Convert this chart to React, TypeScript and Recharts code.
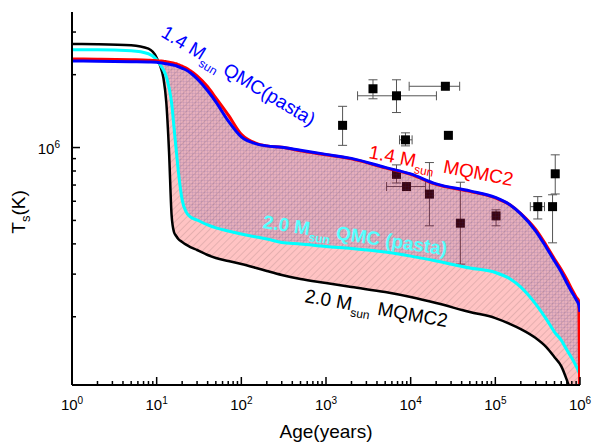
import React from 'react';
import * as R from 'recharts';
import { Area, ComposedChart, ErrorBar, Line, Scatter, XAxis, YAxis } from 'recharts';

const FONT = '"Liberation Sans", Arial, Helvetica, sans-serif';

// cooling curves: surface temperature (K) against age (years)
const ages = [
  1, 2, 5, 8, 10, 10.5, 11, 12, 13, 14, 15, 16, 17, 18, 20, 22, 25, 30, 40, 50, 70, 100,
  150, 200, 300, 500, 1000, 2000, 5000, 1e4, 2e4, 5e4, 1e5, 1.5e5, 2e5, 3e5, 4e5, 5e5,
  6e5, 7e5, 8e5, 9e5, 9.7e5, 1e6,
];

// 1.4 Msun MQMC2 (red)
const t14MQMC2 = [
  2.321e6, 2.317e6, 2.306e6, 2.295e6, 2.284e6, 2.28e6, 2.277e6, 2.273e6, 2.262e6, 2.251e6,
  2.24e6, 2.229e6, 2.219e6, 2.198e6, 2.167e6, 2.136e6, 2.076e6, 1.979e6, 1.782e6, 1.605e6,
  1.365e6, 1.134e6, 1.041e6, 1.016e6, 1.002e6, 0.969e6, 0.933e6, 0.898e6, 0.824e6, 0.775e6,
  0.704e6, 0.659e6, 0.619e6, 0.579e6, 0.534e6, 0.459e6, 0.394e6, 0.3465e6, 0.3135e6,
  0.285e6, 0.26e6, 0.241e6, 0.232e6, 0.068e6,
];

// 1.4 Msun QMC(pasta) (blue)
const t14QMCpasta = [
  2.277e6, 2.273e6, 2.262e6, 2.256e6, 2.251e6, 2.244e6, 2.24e6, 2.229e6, 2.219e6, 2.208e6,
  2.198e6, 2.188e6, 2.177e6, 2.157e6, 2.126e6, 2.096e6, 2.037e6, 1.923e6, 1.716e6, 1.545e6,
  1.289e6, 1.107e6, 1.036e6, 1.016e6, 1.002e6, 0.974e6, 0.937e6, 0.902e6, 0.828e6, 0.778e6,
  0.708e6, 0.662e6, 0.622e6, 0.579e6, 0.532e6, 0.452e6, 0.3866e6, 0.34e6, 0.306e6,
  0.2757e6, 0.253e6, 0.2356e6, 0.2236e6, 0.2092e6,
];

// 2.0 Msun QMC (pasta) (cyan)
const t20QMCpasta = [
  2.536e6, 2.536e6, 2.512e6, 2.441e6, 2.306e6, 2.251e6, 2.198e6, 2.096e6, 1.96e6, 1.765e6,
  1.532e6, 1.218e6, 0.978e6, 0.801e6, 0.608e6, 0.547e6, 0.517e6, 0.502e6, 0.479e6, 0.4655e6,
  0.452e6, 0.4395e6, 0.427e6, 0.419e6, 0.405e6, 0.3996e6, 0.39e6, 0.383e6, 0.37e6, 0.356e6,
  0.34e6, 0.318e6, 0.3047e6, 0.2864e6, 0.2653e6, 0.2257e6, 0.1956e6, 0.1729e6, 0.1602e6,
  0.1457e6, 0.135e6, 0.1251e6, 0.1181e6, 0.1148e6,
];

// 2.0 Msun MQMC2 (black)
const t20MQMC2 = [
  2.677e6, 2.672e6, 2.647e6, 2.56e6, 2.35e6, 2.262e6, 2.177e6, 1.942e6, 1.532e6, 0.96e6,
  0.527e6, 0.448e6, 0.431e6, 0.419e6, 0.4074e6, 0.398e6, 0.388e6, 0.3774e6, 0.3598e6,
  0.3498e6, 0.3399e6, 0.3304e6, 0.318e6, 0.3091e6, 0.2975e6, 0.2864e6, 0.2757e6, 0.2653e6,
  0.2529e6, 0.2412e6, 0.2279e6, 0.2092e6, 0.1975e6, 0.1866e6, 0.1779e6, 0.1633e6, 0.1499e6,
  0.1362e6, 0.1251e6, 0.1094e6, 0.0949e6, 0.0823e6, 0.0748e6, 0.068e6,
];

// observed isolated neutron stars
const obsAge = [1570, 3590, 6800, 25700, 8680, 27900, 6800, 8920, 16660, 38650, 1.02e5, 3.17e5, 4.74e5, 5.1e5];
const obsT = [
  1.235e6, 1.749e6, 1.636e6, 1.791e6, 1.076e6, 1.123e6, 0.775e6, 0.69e6, 0.642e6, 0.487e6,
  0.522e6, 0.57e6, 0.57e6, 0.779e6,
];
const obsTLow = [
  1.021e6, 1.59e6, 1.395e6, null, 1.016e6, null, 0.714e6, null, 0.475e6, 0.33e6, 0.475e6,
  0.507e6, 0.404e6, 0.643e6,
];
const obsTHigh = [
  1.48e6, 1.905e6, 1.905e6, null, 1.15e6, null, 0.848e6, null, 0.867e6, 0.719e6, 0.553e6,
  0.627e6, 0.638e6, 0.933e6,
];
const obsAgeLow = [null, null, 2360, 9600, 7380, null, null, 5190, null, null, null, 2.59e5, null, null];
const obsAgeHigh = [null, null, 20150, 37900, 10400, null, null, 14950, null, null, null, 3.81e5, null, null];

const decades = [1, 10, 100, 1e3, 1e4, 1e5];
const xTicks = [...decades.flatMap((d) => [1, 2, 3, 4, 5, 6, 7, 8, 9].map((m) => m * d)), 1e6];
const yTicks = [2e5, 3e5, 4e5, 5e5, 6e5, 7e5, 8e5, 9e5, 1e6, 2e6, 3e6];

const X_DOMAIN = [1, 1e6];
const Y_DOMAIN = [1.045e5, 3.63e6];

const curves = ages.map((age, i) => ({
  age,
  red: t14MQMC2[i],
  blue: t14QMCpasta[i],
  cyan: t20QMCpasta[i],
  black: t20MQMC2[i],
  pinkBand: age >= 10.5 ? [t20MQMC2[i], t14MQMC2[i]] : null,
  purpleBand: age >= 11 ? [t20QMCpasta[i], t14QMCpasta[i]] : null,
}));

const observed = obsAge.map((age, i) => ({
  age,
  temp: obsT[i],
  errY: obsTLow[i] == null ? null : [obsT[i] - obsTLow[i]!, obsTHigh[i]! - obsT[i]],
  errX: obsAgeLow[i] == null ? null : [age - obsAgeLow[i]!, obsAgeHigh[i]! - age],
}));

const expOf = (v: number) => Math.round(Math.log10(v));
const isDecade = (v: number) => Math.abs(Math.log10(v) - expOf(v)) < 1e-6;

function Pow({ x, y, v, anchor }: { x: number; y: number; v: number; anchor: string }) {
  return (
    <text x={x} y={y} textAnchor={anchor} fontFamily={FONT} fontSize={15} fill="#000">
      10
      <tspan dy={-6} fontSize={10}>
        {expOf(v)}
      </tspan>
    </text>
  );
}

const BottomTick = (props: any) => {
  const { x, y, payload } = props;
  const major = isDecade(payload.value);
  return (
    <g>
      <line x1={x} x2={x} y1={y} y2={y - (major ? 8 : 4)} stroke="#000" strokeWidth={1.5} />
      {major && <Pow x={x} y={y + 25} v={payload.value} anchor="middle" />}
    </g>
  );
};

const TopTick = (props: any) => {
  const { x, y, payload } = props;
  const major = isDecade(payload.value);
  return <line x1={x} x2={x} y1={y} y2={y + (major ? 8 : 4)} stroke="#000" strokeWidth={1.5} />;
};

const LeftTick = (props: any) => {
  const { x, y, payload } = props;
  const major = isDecade(payload.value);
  return (
    <g>
      <line x1={x} x2={x + (major ? 8 : 4)} y1={y} y2={y} stroke="#000" strokeWidth={1.5} />
      {major && <Pow x={x - 12} y={y + 6} v={payload.value} anchor="end" />}
    </g>
  );
};

const RightTick = (props: any) => {
  const { x, y, payload } = props;
  const major = isDecade(payload.value);
  return <line x1={x} x2={x - (major ? 8 : 4)} y1={y} y2={y} stroke="#000" strokeWidth={1.5} />;
};

const Marker = (p: any) => <rect x={p.cx - 4.5} y={p.cy - 4.5} width={9} height={9} fill="#000" />;

const ZLayer: any = (R as any).ZIndexLayer;

function Texts() {
  return (
    <g fontFamily={FONT}>
      <text transform="translate(160,36) rotate(31)" fill="#0000ff" fontSize={19}>
        1.4 M<tspan dy={6} fontSize={12}>sun</tspan>
        <tspan dy={-6}> QMC(pasta)</tspan>
      </text>
      <text transform="translate(368,158) rotate(11)" fill="#ff0000" fontSize={19}>
        1.4 M<tspan dy={6} fontSize={12}>sun</tspan>
        <tspan dy={-6} dx={9}>MQMC2</tspan>
      </text>
      <text transform="translate(262,228) rotate(8.5)" fill="#55ffff" fontSize={19} fontWeight="bold">
        2.0 M<tspan dy={6} fontSize={12}>sun</tspan>
        <tspan dy={-6}> QMC (pasta)</tspan>
      </text>
      <text transform="translate(304,302) rotate(10)" fill="#000" fontSize={19}>
        2.0 M<tspan dy={6} fontSize={12}>sun</tspan>
        <tspan dy={-6} dx={7}>MQMC2</tspan>
      </text>
      <text x={326} y={438} textAnchor="middle" fill="#000" fontSize={19}>
        Age(years)
      </text>
      <text transform="translate(25,212) rotate(-90)" textAnchor="middle" fill="#000" fontSize={19}>
        T<tspan dy={5} fontSize={13}>s</tspan>
        <tspan dy={-5}>(K)</tspan>
      </text>
    </g>
  );
}

const axisLine = { stroke: '#000', strokeWidth: 2 };

export default function App() {
  return (
    <div style={{ position: 'absolute', left: 0, top: 0, width: 592, height: 446, background: '#fff' }}>
      <ComposedChart width={592} height={446} data={curves} margin={{ top: 12, right: 12, bottom: 0, left: 0 }}>
        <defs>
          <pattern id="pinkHatch" patternUnits="userSpaceOnUse" width={5} height={5} patternTransform="rotate(45)">
            <rect width={5} height={5} fill="#ff0000" fillOpacity={0.235} />
            <line x1={0.5} y1={0} x2={0.5} y2={5} stroke="#000" strokeOpacity={0.15} strokeWidth={0.7} />
          </pattern>
          <pattern id="purpleGrid" patternUnits="userSpaceOnUse" width={3} height={3}>
            <rect width={3} height={3} fill="#3a2a8c" fillOpacity={0.13} />
            <path d="M0 0.5H3M0.5 0V3" stroke="#3a2a8c" strokeOpacity={0.09} strokeWidth={1} />
          </pattern>
        </defs>

        <XAxis
          dataKey="age"
          type="number"
          scale="log"
          domain={X_DOMAIN}
          allowDataOverflow
          ticks={xTicks}
          interval={0}
          tick={<BottomTick />}
          tickLine={false}
          tickSize={0}
          tickMargin={0}
          height={61}
          axisLine={axisLine}
        />
        <XAxis
          xAxisId="top"
          orientation="top"
          dataKey="age"
          type="number"
          scale="log"
          domain={X_DOMAIN}
          allowDataOverflow
          ticks={xTicks}
          interval={0}
          tick={<TopTick />}
          tickLine={false}
          tickSize={0}
          tickMargin={0}
          height={0}
          axisLine={axisLine}
        />
        <YAxis
          type="number"
          scale="log"
          domain={Y_DOMAIN}
          allowDataOverflow
          ticks={yTicks}
          interval={0}
          tick={<LeftTick />}
          tickLine={false}
          tickSize={0}
          tickMargin={0}
          width={72}
          axisLine={axisLine}
        />
        <YAxis
          yAxisId="right"
          orientation="right"
          type="number"
          scale="log"
          domain={Y_DOMAIN}
          allowDataOverflow
          ticks={yTicks}
          interval={0}
          tick={<RightTick />}
          tickLine={false}
          tickSize={0}
          tickMargin={0}
          width={0}
          axisLine={axisLine}
        />

        <Scatter data={observed} dataKey="temp" shape={Marker} isAnimationActive={false} zIndex={50}>
          <ErrorBar dataKey="errY" direction="y" width={4.5} stroke="#555" strokeWidth={1} zIndex={50} />
          <ErrorBar dataKey="errX" direction="x" width={4.5} stroke="#555" strokeWidth={1} zIndex={50} />
        </Scatter>

        <Area
          type="monotone"
          dataKey="pinkBand"
          stroke="none"
          fill="url(#pinkHatch)"
          fillOpacity={1}
          isAnimationActive={false}
          activeDot={false}
        />
        <Area
          type="monotone"
          dataKey="purpleBand"
          stroke="none"
          fill="url(#purpleGrid)"
          fillOpacity={1}
          isAnimationActive={false}
          activeDot={false}
        />

        <Line type="monotone" dataKey="black" stroke="#000" strokeWidth={2.5} dot={false} activeDot={false} isAnimationActive={false} />
        <Line type="monotone" dataKey="cyan" stroke="#00ffff" strokeWidth={3} dot={false} activeDot={false} isAnimationActive={false} />
        <Line type="monotone" dataKey="red" stroke="#ff0000" strokeWidth={3} dot={false} activeDot={false} isAnimationActive={false} />
        <Line type="monotone" dataKey="blue" stroke="#0000ff" strokeWidth={3} dot={false} activeDot={false} isAnimationActive={false} />

        {ZLayer ? (
          <ZLayer zIndex={2000}>
            <Texts />
          </ZLayer>
        ) : (
          <Texts />
        )}
      </ComposedChart>
    </div>
  );
}
